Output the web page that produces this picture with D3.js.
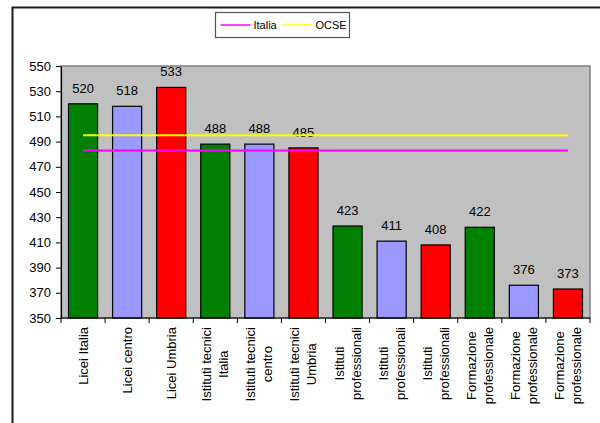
<!DOCTYPE html>
<html>
<head>
<meta charset="utf-8">
<script src="https://cdn.jsdelivr.net/npm/d3@7"></script>
<style>
  body { margin: 0; background: #fff; }
  text { font-family: "Liberation Sans", Arial, sans-serif; fill: #000; }
</style>
</head>
<body>
<div id="chart"></div>
<script>
// Data
var categories = [
    ["Licei Italia"],
    ["Licei centro"],
    ["Licei Umbria"],
    ["Istituti tecnici", "Italia"],
    ["Istituti tecnici", "centro"],
    ["Istituti tecnici", "Umbria"],
    ["Istituti", "professionali"],
    ["Istituti", "professionali"],
    ["Istituti", "professionali"],
    ["Formazione", "professionale"],
    ["Formazione", "professionale"],
    ["Formazione", "professionale"]
];
var scores = [520, 518, 533, 488, 488, 485, 423, 411, 408, 422, 376, 373];
var barColors = ["#008000", "#9999FF", "#FF0000"];
var lineNames = ["Italia", "OCSE"];
var lineValues = [483, 495];
var lineColors = ["#FF00FF", "#FFFF00"];
var yTicks = [350, 370, 390, 410, 430, 450, 470, 490, 510, 530, 550];

var svgWidth = 600;
var svgHeight = 423;

var margin = { top: 66, right: 10, bottom: 105, left: 61 };
var chartWidth = 590 - margin.left;
var chartHeight = 318 - margin.top;

var svg = d3.select("#chart")
    .append("svg")
    .attr("width", svgWidth)
    .attr("height", svgHeight);

// outer frame (only top and left visible)
svg.append("path")
    .attr("d", "M12.5,423 L12.5,7.5 L600,7.5")
    .attr("fill", "none")
    .attr("stroke", "#1a1a1a")
    .attr("stroke-width", 2);

var chartGroup = svg.append("g")
    .attr("transform", `translate(${margin.left}, ${margin.top})`);

var xScale = d3.scaleBand()
    .domain(d3.range(scores.length))
    .range([0, chartWidth])
    .paddingInner(0.34)
    .paddingOuter(0.17);

var yScale = d3.scaleLinear()
    .domain([350, 550])
    .range([chartHeight, 0]);

// plot background
chartGroup.append("rect")
    .attr("width", chartWidth)
    .attr("height", chartHeight)
    .attr("fill", "#C0C0C0")
    .attr("stroke", "#808080")
    .attr("stroke-width", 1.5);

// bars
chartGroup.selectAll(".bar")
    .data(scores)
    .enter()
    .append("rect")
    .attr("class", "bar")
    .attr("x", (d, i) => xScale(i))
    .attr("y", d => yScale(d))
    .attr("width", xScale.bandwidth())
    .attr("height", d => chartHeight - yScale(d))
    .attr("fill", (d, i) => barColors[i % 3])
    .attr("stroke", "#000")
    .attr("stroke-width", 1.2);

// value labels
chartGroup.selectAll(".val")
    .data(scores)
    .enter()
    .append("text")
    .attr("x", (d, i) => xScale(i) + xScale.bandwidth() / 2)
    .attr("y", d => yScale(d) - 11)
    .attr("text-anchor", "middle")
    .attr("font-size", 13)
    .text(d => d);

// reference lines (Italia, OCSE)
var firstX = xScale(0) + xScale.bandwidth() / 2;
var lastX = xScale(scores.length - 1) + xScale.bandwidth() / 2;
lineValues.forEach(function (v, i) {
    chartGroup.append("line")
        .attr("x1", firstX)
        .attr("x2", lastX)
        .attr("y1", yScale(v))
        .attr("y2", yScale(v))
        .attr("stroke", lineColors[i])
        .attr("stroke-width", 2);
});

// y axis
var leftAxis = d3.axisLeft(yScale)
    .tickValues(yTicks)
    .tickSize(5)
    .tickSizeOuter(0)
    .tickPadding(5);
var yAxisG = chartGroup.append("g").call(leftAxis);
yAxisG.select(".domain").attr("stroke", "#000").attr("stroke-width", 1.2);
yAxisG.selectAll("text").attr("font-size", 13).attr("font-family", "Liberation Sans, Arial, sans-serif");

// x axis: line plus ticks at category boundaries
var step = xScale.step();
var xAxisG = chartGroup.append("g")
    .attr("transform", `translate(0, ${chartHeight})`);
xAxisG.append("line")
    .attr("x1", 0).attr("x2", chartWidth)
    .attr("stroke", "#000").attr("stroke-width", 1.2);
xAxisG.selectAll(".xt")
    .data(d3.range(scores.length + 1))
    .enter()
    .append("line")
    .attr("x1", i => i * step)
    .attr("x2", i => i * step)
    .attr("y1", 0)
    .attr("y2", 5)
    .attr("stroke", "#000");

// category labels, rotated, multi-line
var labelTop = chartHeight + 9;
categories.forEach(function (lines, i) {
    var cx = xScale(i) + xScale.bandwidth() / 2;
    var lh = 17;
    var g = xAxisG.append("g");
    var texts = lines.map(function (s, j) {
        return g.append("text")
            .attr("font-size", 13)
            .attr("text-anchor", "middle")
            .text(s);
    });
    var maxW = d3.max(texts, t => t.node().getComputedTextLength());
    var cy = labelTop - chartHeight + maxW / 2;
    texts.forEach(function (t, j) {
        var off = (j - (lines.length - 1) / 2) * lh;
        t.attr("transform", `translate(${cx + off + 4.5}, ${cy}) rotate(-90)`);
    });
});

// legend
var legend = svg.append("g").attr("transform", "translate(215.5, 12.5)");
legend.append("rect")
    .attr("width", 134)
    .attr("height", 25)
    .attr("fill", "#fff")
    .attr("stroke", "#555")
    .attr("stroke-width", 1.2);
var legendX = [5, 67];
lineNames.forEach(function (name, i) {
    legend.append("line")
        .attr("x1", legendX[i])
        .attr("x2", legendX[i] + 30)
        .attr("y1", 12.5)
        .attr("y2", 12.5)
        .attr("stroke", lineColors[i])
        .attr("stroke-width", 1.5);
    legend.append("text")
        .attr("x", legendX[i] + 33)
        .attr("y", 16.5)
        .attr("font-size", 11)
        .text(name);
});
</script>
</body>
</html>
